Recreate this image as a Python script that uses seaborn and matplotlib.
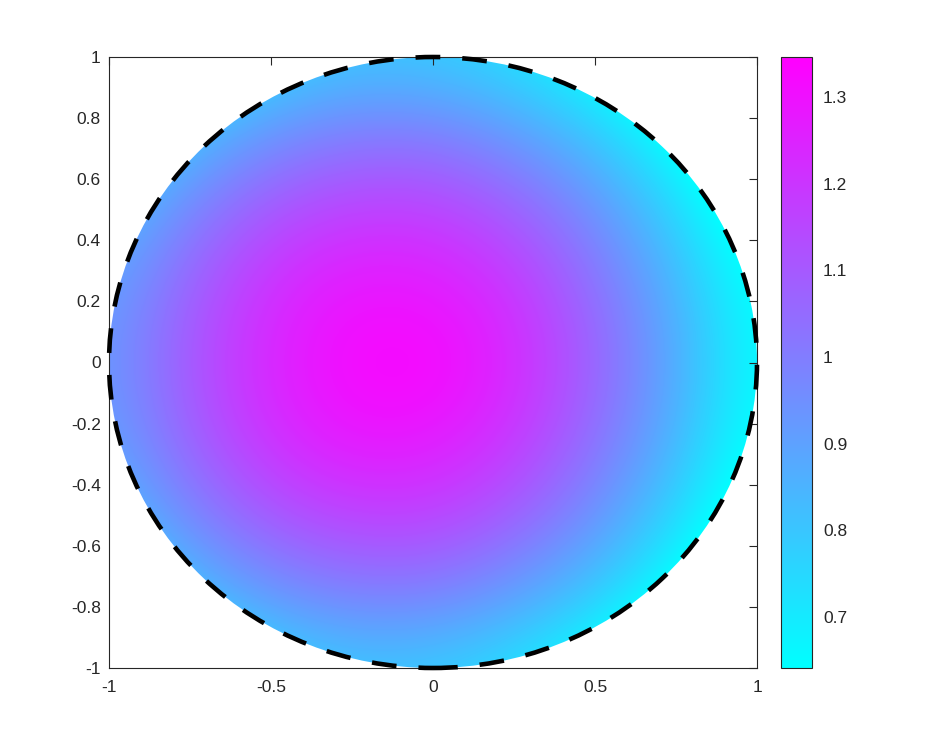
import numpy as np
import seaborn as sns
import matplotlib
matplotlib.use("Agg")
import matplotlib.pyplot as plt
from matplotlib.patches import Circle

# field values, on a 9x9 grid (x, y = -1 .. 1, step 0.25)
# rows go from y = 1 (top) down to y = -1
grid_x = [-1, -0.75, -0.5, -0.25, 0, 0.25, 0.5, 0.75, 1]
grid_y = [1, 0.75, 0.5, 0.25, 0, -0.25, -0.5, -0.75, -1]
field = [
    [0.44, 0.62, 0.73, 0.79, 0.78, 0.72, 0.60, 0.43, 0.22],
    [0.65, 0.82, 0.94, 1.00, 1.00, 0.92, 0.80, 0.62, 0.40],
    [0.80, 0.98, 1.11, 1.17, 1.17, 1.09, 0.95, 0.76, 0.53],
    [0.89, 1.08, 1.22, 1.29, 1.28, 1.20, 1.04, 0.85, 0.61],
    [0.92, 1.11, 1.25, 1.33, 1.34, 1.24, 1.08, 0.88, 0.64],
    [0.89, 1.08, 1.22, 1.29, 1.28, 1.20, 1.04, 0.85, 0.61],
    [0.80, 0.98, 1.11, 1.17, 1.17, 1.09, 0.95, 0.76, 0.53],
    [0.65, 0.82, 0.94, 1.00, 1.00, 0.92, 0.80, 0.62, 0.40],
    [0.44, 0.62, 0.73, 0.79, 0.78, 0.72, 0.60, 0.43, 0.22],
]
color_limits = [0.641, 1.346]
cbar_ticks = [0.7, 0.8, 0.9, 1.0, 1.1, 1.2, 1.3]
cbar_labels = ["0.7", "0.8", "0.9", "1", "1.1", "1.2", "1.3"]
x_ticks = [-1, -0.5, 0, 0.5, 1]
x_labels = ["-1", "-0.5", "0", "0.5", "1"]
y_ticks = [-1, -0.8, -0.6, -0.4, -0.2, 0, 0.2, 0.4, 0.6, 0.8, 1]
y_labels = ["-1", "-0.8", "-0.6", "-0.4", "-0.2", "0", "0.2", "0.4", "0.6", "0.8", "1"]

sns.set_theme(style="white")
plt.rcParams["font.family"] = ["Liberation Sans", "DejaVu Sans"]
plt.rcParams["axes.unicode_minus"] = False

fig = plt.figure(figsize=(9.4, 7.52), dpi=100)
ax = fig.add_axes([109 / 940, 84 / 752, 648 / 940, 611 / 752])
cax = fig.add_axes([781 / 940, 84 / 752, 31 / 940, 611 / 752])

cmap = sns.color_palette("cool", as_cmap=True)
step = grid_x[1] - grid_x[0]
img = ax.imshow(np.array(field), cmap=cmap, vmin=color_limits[0], vmax=color_limits[1],
                extent=[grid_x[0] - step / 2, grid_x[-1] + step / 2,
                        grid_y[-1] - step / 2, grid_y[0] + step / 2],
                origin="upper", interpolation="bicubic", aspect="auto")
disk = Circle((0, 0), 1, transform=ax.transData)
img.set_clip_path(disk)

edge = Circle((0, 0), 1, fill=False, color="black", lw=3.3,
              linestyle=(0, (5.4, 4.8)), clip_on=False, zorder=5)
ax.add_patch(edge)

ax.set_xlim(-1, 1)
ax.set_ylim(-1, 1)
ax.set_xticks(x_ticks)
ax.set_xticklabels(x_labels)
ax.set_yticks(y_ticks)
ax.set_yticklabels(y_labels)
ax.tick_params(direction="in", length=6, width=0.8, colors="#262626",
               labelsize=12.5, top=True, right=True, pad=6)
ax.tick_params(axis="x", pad=9)
for s in ax.spines.values():
    s.set_color("#262626")
    s.set_linewidth(0.8)

cb = fig.colorbar(img, cax=cax)
cb.set_ticks(cbar_ticks)
cb.set_ticklabels(cbar_labels)
cb.ax.tick_params(direction="in", length=6, width=0.8, colors="#262626",
                  labelsize=12.5, pad=8)
cb.outline.set_edgecolor("#262626")
cb.outline.set_linewidth(0.8)

fig.savefig("out.png", dpi=100)
